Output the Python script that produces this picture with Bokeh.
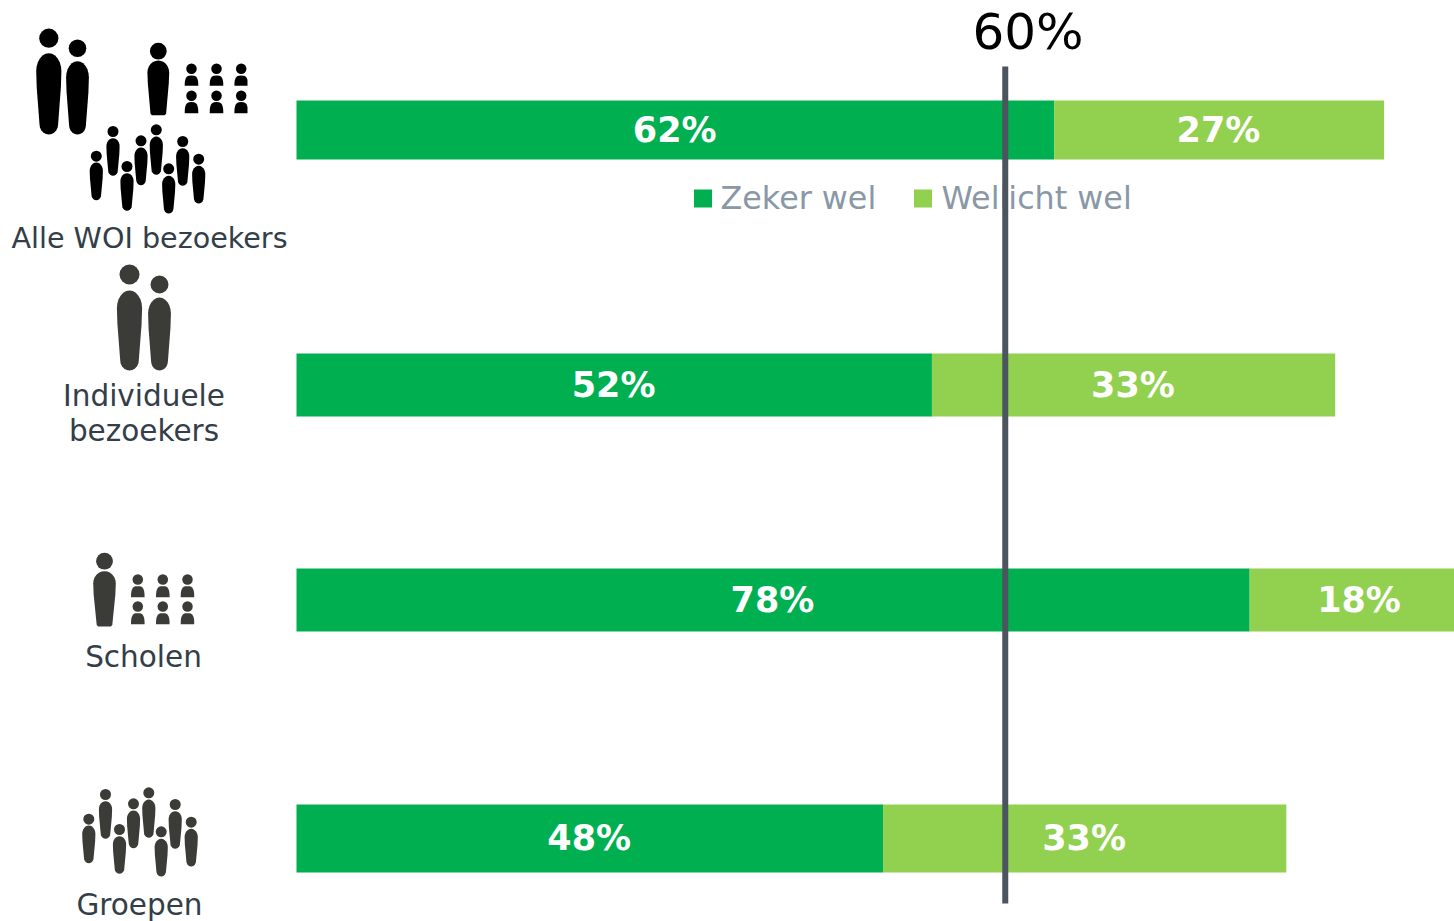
from bokeh.embed import file_html
from bokeh.resources import INLINE
from bokeh.models import Range1d, ColumnDataSource
from bokeh.plotting import figure
from bokeh.core.properties import value
import math

categories = ["Alle WOI bezoekers", "Individuele bezoekers", "Scholen", "Groepen"]
zeker_wel = [62, 52, 78, 48]
wellicht_wel = [27, 33, 18, 33]
threshold_label = "60%"
legend_labels = ["Zeker wel", "Wellicht wel"]

# layout (page pixels)
W, H = 1454, 921
PX_PER_PCT = 12.22
X0 = 296
bar_center = [129.5, 384.5, 599.5, 838]
bar_height = [59, 63, 63, 68]
label_center = [129.5, 384.5, 599.5, 837.5]
GREEN, LIGHT = "#00B050", "#92D050"
LINE, TEXT, LEG = "#4A5560", "#333E48", "#8A98A5"
BLACK, DARK = "#000000", "#3B3C38"
FONT = value("DejaVu Sans")

p = figure(width=W, height=H, output_backend="svg", toolbar_location=None,
           x_range=Range1d(-X0 / PX_PER_PCT, (W - X0) / PX_PER_PCT),
           y_range=Range1d(H, 0), x_axis_location=None, y_axis_location=None,
           min_border=0, outline_line_color=None, background_fill_color="white",
           styles={"position": "absolute", "left": "0px", "top": "0px"})
p.grid.visible = False
p.extra_x_ranges["px"] = Range1d(0, W)

# bars
src = ColumnDataSource(dict(
    y=bar_center, h=bar_height, a=zeker_wel, b=wellicht_wel,
    t=[v + w for v, w in zip(zeker_wel, wellicht_wel)],
    mid_a=[v / 2 - 0.05 for v in zeker_wel],
    mid_b=[v + w / 2 - 0.05 for v, w in zip(zeker_wel, wellicht_wel)],
    la=[f"{v}%" for v in zeker_wel], lb=[f"{v}%" for v in wellicht_wel],
    ly=label_center, zero=[0] * 4))
p.hbar(y="y", height="h", left="zero", right="a", source=src, color=GREEN, line_color=None)
p.hbar(y="y", height="h", left="a", right="t", source=src, color=LIGHT, line_color=None)
for xc, lab in (("mid_a", "la"), ("mid_b", "lb")):
    p.text(x=xc, y="ly", text=lab, source=src, text_color="white", text_font=FONT,
           text_font_style="bold", text_font_size="35px", text_align="center",
           text_baseline="middle")


def txt(x, y, s, color, size, align="center"):
    p.text(x=[x], y=[y], text=[s], x_range_name="px", text_color=color, text_font=FONT,
           text_font_size=f"{size}px", text_align=align, text_baseline="middle")


# legend
p.scatter(x=[702.5, 922.5], y=[198, 198], size=18, marker="square", x_range_name="px",
          color=[GREEN, LIGHT], line_color=None)
txt(720, 197, legend_labels[0], LEG, 31.8, "left")
txt(941, 197, legend_labels[1], LEG, 31.8, "left")

# threshold line
p.line(x=[58.0, 58.0], y=[66, 903], line_color=LINE, line_width=6)
txt(1027.5, 31.5, threshold_label, "#000000", 50)

# category labels
txt(149, 237, categories[0], TEXT, 28.6)
txt(143.5, 395, "Individuele", TEXT, 29.5)
txt(143.5, 430, "bezoekers", TEXT, 29.5)
txt(143, 656, categories[2], TEXT, 29.5)
txt(139, 904.5, categories[3], TEXT, 29.5)


# people icons
def person(cx, head_y, r, top, bottom, hw, foot, color, flat=False):
    p.ellipse(x=[cx], y=[head_y], width=2 * r, height=2 * r, x_range_name="px",
              color=color, line_color=None)
    sh = top + (bottom - top) * 0.22
    mid = top + (bottom - top) * 0.42
    xs, ys = [], []
    for i in range(0, 13):
        a = math.pi + i / 12 * math.pi
        xs.append(cx + hw * math.cos(a))
        ys.append(sh + (sh - top) * math.sin(a))
    xs.append(cx + hw * 0.96)
    ys.append(mid)
    if flat:
        xs += [cx + foot, cx + foot - 1.5, cx - foot + 1.5, cx - foot]
        ys += [bottom - 1.5, bottom, bottom, bottom - 1.5]
    else:
        fy = bottom - foot * 1.1
        for i in range(0, 11):
            a = i / 10 * math.pi
            xs.append(cx + foot * math.cos(a))
            ys.append(fy + foot * 1.1 * math.sin(a))
    xs.append(cx - hw * 0.96)
    ys.append(mid)
    p.patch(xs, ys, x_range_name="px", color=color, line_color=None)


def seated(cx, head_y, top, bottom, hw, color, clip=None):
    p.ellipse(x=[cx], y=[head_y], width=10.5, height=10.5, x_range_name="px",
              color=color, line_color=None)
    xs, ys = [], []
    for i in range(0, 17):
        a = i / 16 * math.pi
        c, s = math.cos(a), math.sin(a)
        x = cx - hw * math.copysign(abs(c) ** 0.65, c)
        if clip is not None:
            x = min(x, clip)
        xs.append(x)
        ys.append(bottom - (bottom - top) * s ** 0.75)
    p.patch(xs, ys, x_range_name="px", color=color, line_color=None)


def class_icon(big, cols, rows, clip, color):
    person(*big, color, flat=True)
    for hy, t, b in rows:
        for c in cols:
            seated(c, hy, t, b, 6.8, color, clip)


def group_icon(dx, dy, color):
    # head x, head y, body top, body bottom for the eight figures
    figs = [(88.3, 818.7, 825, 862.7), (105, 794, 800.7, 838.3), (119, 829, 835.7, 873.3),
            (133, 803.3, 810, 847.7), (148.3, 792.3, 799, 837.3), (160.7, 831.3, 838.3, 876),
            (174.7, 804, 810.7, 848.3), (190.7, 821.7, 828.3, 866)]
    for x, hy, t, b in figs:
        person(x + dx, hy + dy, 5.5, t + dy, b + dy, 6.6, 4.8, color)


# top row, black
person(48.3, 37.7, 9.6, 52.7, 134, 12.6, 9.3, BLACK)
person(77, 47.7, 8.8, 60.7, 134, 11.4, 8.4, BLACK)
class_icon((157.8, 50.7, 8.4, 60, 114.7, 10.9, 7.8), [191, 216, 240.7],
           [(68.3, 75, 85.3), (95.3, 101.5, 112.7)], 247, BLACK)
group_icon(7.5, -663, BLACK)

# individual
person(129, 274, 10, 290, 370, 12.6, 9.3, DARK)
person(159, 284, 9, 297, 370, 11.4, 8.4, DARK)
# schools
class_icon((104, 560.7, 8.4, 570.7, 626, 11.3, 7.8), [137.3, 162.3, 187],
           [(579, 585.7, 596.7), (606, 612.7, 623.7)], 193.7, DARK)
# groups
group_icon(0, 0, DARK)

open("out.html", "w").write(file_html(p, INLINE))
